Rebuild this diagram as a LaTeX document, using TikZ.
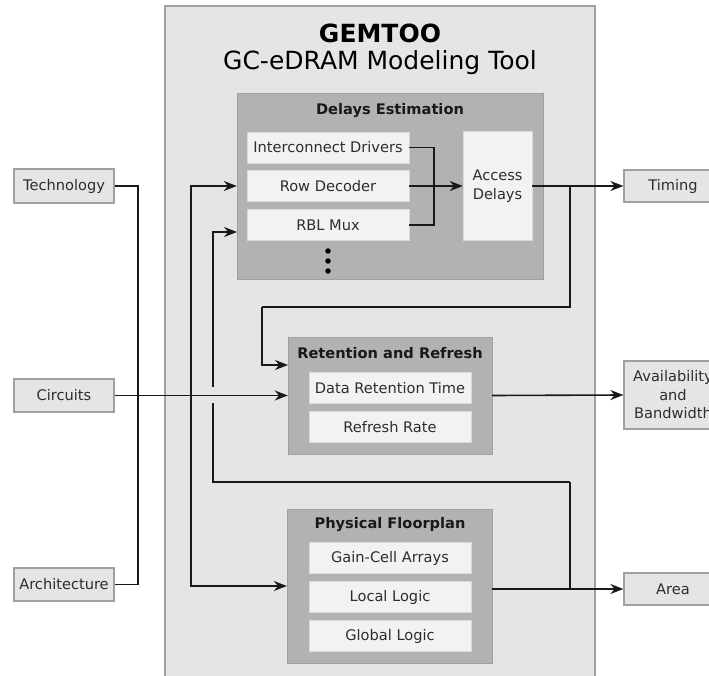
\documentclass[tikz,border=0pt]{standalone}
\usepackage{fontspec}
\setmainfont{DejaVu Sans}
\usetikzlibrary{arrows.meta,calc}
\definecolor{mainbg}{RGB}{229,229,229}
\definecolor{bordergray}{RGB}{160,160,160}
\definecolor{modgray}{RGB}{178,178,178}
\definecolor{innergray}{RGB}{242,242,242}
\definecolor{linec}{RGB}{25,25,25}
\definecolor{txt}{RGB}{45,45,45}
\begin{document}
\begin{tikzpicture}[x=1pt,y=-1pt,
  mainbox/.style={draw=bordergray,line width=1.2pt,fill=mainbg,inner sep=0pt},
  modbox/.style={fill=modgray,draw=modgray!90!black,line width=0.4pt,inner sep=0pt},
  innerbox/.style={fill=innergray,draw=innergray!90!black,line width=0.4pt,inner sep=0pt,minimum width=162pt,minimum height=31pt,font=\fontsize{14.6}{16}\selectfont,text=txt},
  extbox/.style={draw=bordergray,line width=1.2pt,fill=mainbg,inner sep=0pt,font=\fontsize{14.6}{18.5}\selectfont,text=txt,align=center},
  modtitle/.style={font=\fontsize{14.6}{16}\selectfont\bfseries,text=black!90,inner sep=0pt},
  conn/.style={draw=linec,line width=1.6pt},
  arr/.style={conn,-{Stealth[length=13pt,width=10pt]}},
  dot/.style={circle,fill=black,inner sep=0pt,minimum size=5.5pt}
]
\clip (0,0) rectangle (709,676);
\fill[white] (0,0) rectangle (709,676);
% main box
\node[mainbox,minimum width=430pt,minimum height=720pt] (main) at (380,366) {};
\node[font=\fontsize{25}{30}\selectfont\bfseries,inner sep=0pt] (t1) at (380,33) {GEMTOO};
\node[font=\fontsize{25}{30}\selectfont,inner sep=0pt] (t2) at (380,63) {GC-eDRAM Modeling Tool};
% modules
\node[modbox,minimum width=306pt,minimum height=186pt] (delays) at (390,186) {};
\node[modtitle] (delt) at (390,111) {Delays Estimation};
\node[innerbox] (idrv) at (328,147.5) {Interconnect Drivers};
\node[innerbox] (rowdec) at (328,186) {Row Decoder};
\node[innerbox] (rbl) at (328,225) {RBL Mux};
\node[innerbox,minimum width=69pt,minimum height=109pt,align=center,font=\fontsize{14.6}{19}\selectfont] (access) at (497.5,186) {Access\\Delays};
\node[dot] (d1) at (328,251) {};
\node[dot] (d2) at (328,261) {};
\node[dot] (d3) at (328,271) {};

\node[modbox,minimum width=204pt,minimum height=117pt] (ret) at (390,395.5) {};
\node[modtitle] (rett) at (390,353) {Retention and Refresh};
\node[innerbox] (drt) at (390,388) {Data Retention Time};
\node[innerbox] (rr) at (390,427) {Refresh Rate};

\node[modbox,minimum width=205pt,minimum height=154pt] (phys) at (389.5,586) {};
\node[modtitle] (physt) at (390,525) {Physical Floorplan};
\node[innerbox] (gca) at (390,558) {Gain-Cell Arrays};
\node[innerbox] (ll) at (390,597) {Local Logic};
\node[innerbox] (gl) at (390,636) {Global Logic};

% external boxes
\node[extbox,minimum width=100pt,minimum height=34pt] (tech) at (64,186) {Technology};
\node[extbox,minimum width=100pt,minimum height=33pt] (circ) at (64,395.5) {Circuits};
\node[extbox,minimum width=100pt,minimum height=33pt] (arch) at (64,584.5) {Architecture};
\node[extbox,minimum width=98pt,minimum height=32pt] (timing) at (673,186) {Timing};
\node[extbox,minimum width=98pt,minimum height=68pt] (avail) at (673,395) {Availability\\and\\Bandwidth};
\node[extbox,minimum width=98pt,minimum height=32pt] (area) at (673,589) {Area};

% coordinates
\coordinate (busx) at (138,0);
\coordinate (v1) at (191,0);
\coordinate (v2) at (213,0);
\coordinate (jx) at (434,0);
\coordinate (rx) at (570,0);
\coordinate (fx) at (262,0);

% connectors
\draw[conn] (tech.east) -- (tech.east -| busx) -- (arch.east -| busx) -- (arch.east);
\draw[conn,{Stealth[length=13pt,width=10pt]}-{Stealth[length=13pt,width=10pt]}] (delays.west) -- (delays.west -| v1) -- (phys.west -| v1) -- (phys.west);
% feedback from area line to delays, with a gap at the circuits line
\coordinate (fb1) at (213,482);
\coordinate (fb2) at (570,482);
\coordinate (gapb) at (213,403);
\coordinate (gapt) at (213,387);
\coordinate (din) at (237,232);
\draw[conn] (fb2) -- (fb1) -- (gapb);
\draw[arr] (gapt) -- (din -| v2) -- (din);
\draw[arr] (circ.east) -- (ret.west);
% delays internals
\draw[conn] (idrv.east) -- (idrv.east -| jx) -- (rbl.east -| jx) -- (rbl.east);
\draw[arr] (rowdec.east) -- (access.west);
% outputs
\draw[arr] (access.east) -- (timing.west);
\coordinate (br1) at (570,307);
\coordinate (br2) at (262,307);
\coordinate (rin) at (288,365);
\draw[conn] (access.east -| rx) -- (br1) -- (br2);
\draw[arr] (br2) -- (rin -| fx) -- (rin);
\draw[arr] (ret.east) -- (avail.west);
\draw[arr] (phys.east |- area.west) -- (area.west);
\draw[conn] (fb2) -- (area.west -| rx);
\end{tikzpicture}
\end{document}
